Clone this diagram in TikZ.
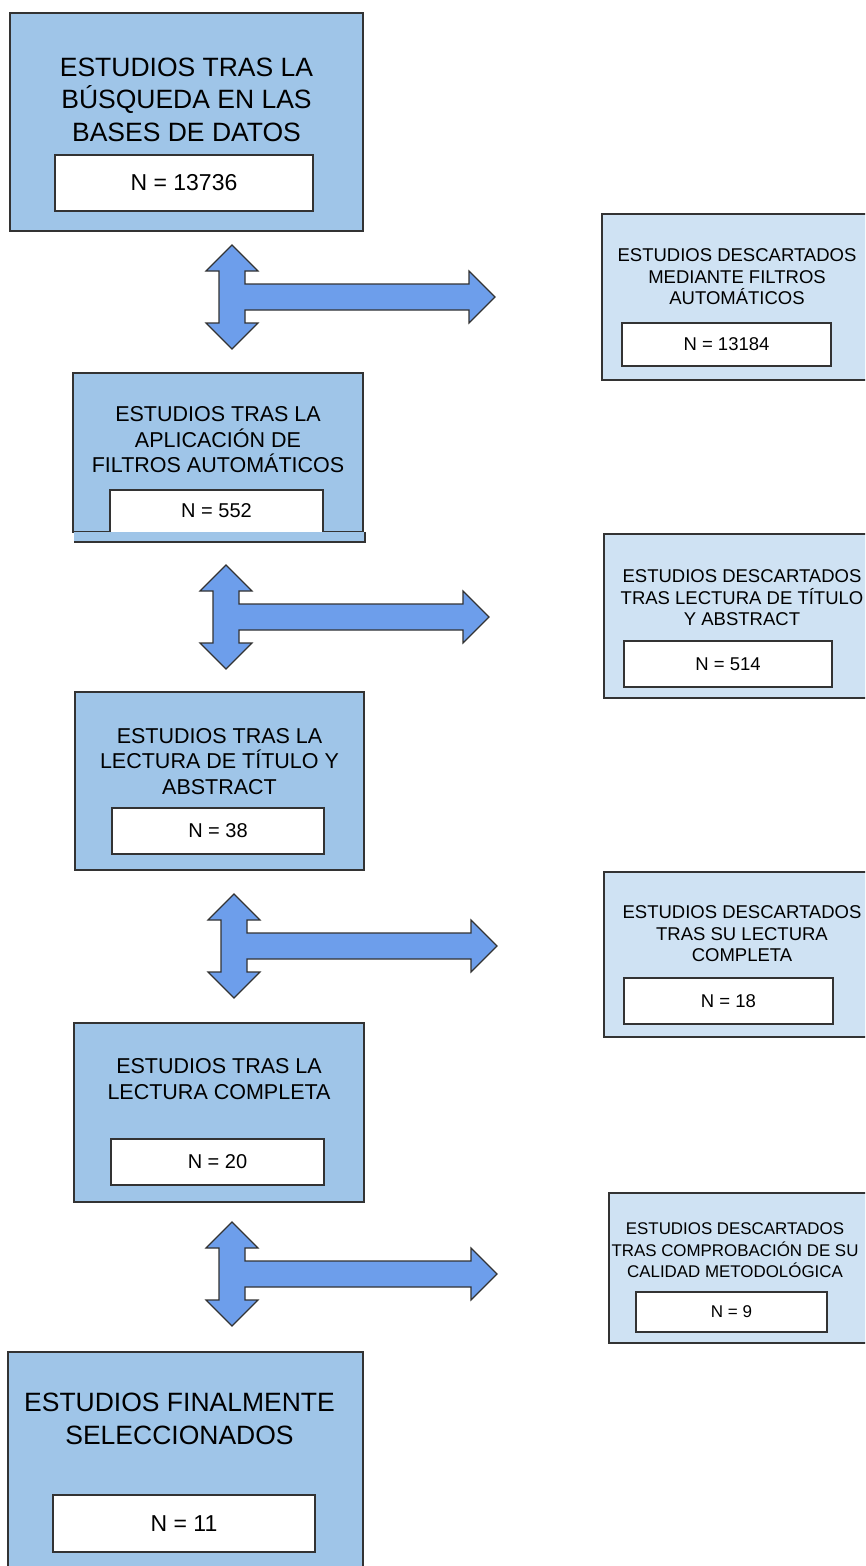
\documentclass[tikz,border=0pt]{standalone}
\usepackage{fontspec}
\setmainfont{Liberation Sans}
\definecolor{mainblue}{HTML}{9FC5E8}
\definecolor{sideblue}{HTML}{CFE2F3}
\definecolor{arrowblue}{HTML}{6D9EEB}
\definecolor{edge}{HTML}{333333}

\begin{document}
\begin{tikzpicture}[
  x=1pt, y=-1pt,
  box/.style={draw=edge, line width=1.1pt, anchor=north west, inner sep=0pt, outer sep=0pt},
  mainbox/.style={box, fill=mainblue},
  sidebox/.style={box, fill=sideblue},
  countbox/.style={box, fill=white},
  edgeline/.style={draw=edge, line width=1.1pt},
  title/.style={align=center, inner sep=0pt},
  bigtitle/.style={title, font=\fontsize{26.5}{32.5}\selectfont},
  midtitle/.style={title, font=\fontsize{21.5}{25.5}\selectfont},
  sidetitle/.style={title, font=\fontsize{18.5}{21.5}\selectfont},
  bignum/.style={font=\fontsize{23}{27}\selectfont},
  midnum/.style={font=\fontsize{20}{24}\selectfont},
  sidenum/.style={font=\fontsize{18.5}{22}\selectfont},
  blockarrow/.style={draw=edge, line width=1.1pt, fill=arrowblue, line join=miter},
]
\useasboundingbox (0,0) rectangle (865,1566);
\fill[white] (0,0) rectangle (865,1566);
\clip (0,0) rectangle (865,1566);

% left column
\node[mainbox, minimum width=353, minimum height=218] (b1) at (10,13) {};
\node[bigtitle] (b1t) at (186.5,99.5) {ESTUDIOS TRAS LA\\BÚSQUEDA EN LAS\\BASES DE DATOS};
\node[countbox, bignum, minimum width=258, minimum height=56] (b1n) at (55,155) {N = 13736};

\node[mainbox, minimum width=290, minimum height=159] (b2) at (73,373) {};
\node[midtitle] (b2t) at (218,440) {ESTUDIOS TRAS LA\\APLICACIÓN DE\\FILTROS AUTOMÁTICOS};
\node[countbox, midnum, draw=none, minimum width=213, minimum height=42] (b2n) at (110,490) {N = 552};
\draw[edgeline] (b2n.south west) |- (b2n.north east) -- (b2n.south east);
\node[box, draw=none, fill=mainblue, minimum width=291, minimum height=10.5] (b2s) at (74,531.5) {};
\draw[edgeline] (b2s.south west) -- (b2s.south east) -- (b2s.north east);

\node[mainbox, minimum width=289, minimum height=178] (b3) at (75,692) {};
\node[midtitle] (b3t) at (219.5,761.5) {ESTUDIOS TRAS LA\\LECTURA DE TÍTULO Y\\ABSTRACT};
\node[countbox, midnum, minimum width=212, minimum height=46] (b3n) at (112,808) {N = 38};

\node[mainbox, minimum width=290, minimum height=179] (b4) at (74,1023) {};
\node[midtitle] (b4t) at (219,1079) {ESTUDIOS TRAS LA\\LECTURA COMPLETA};
\node[countbox, midnum, minimum width=213, minimum height=46] (b4n) at (111,1139) {N = 20};

\node[mainbox, minimum width=355, minimum height=230] (b5) at (8,1352) {};
\node[bigtitle] (b5t) at (179.5,1419) {ESTUDIOS FINALMENTE\\SELECCIONADOS};
\node[countbox, bignum, minimum width=262, minimum height=57] (b5n) at (53,1495) {N = 11};

% right column
\node[sidebox, minimum width=278, minimum height=166] (r1) at (602,214) {};
\node[sidetitle] (r1t) at (737,277) {ESTUDIOS DESCARTADOS\\MEDIANTE FILTROS\\AUTOMÁTICOS};
\node[countbox, sidenum, minimum width=209, minimum height=43] (r1n) at (622,323) {N = 13184};

\node[sidebox, minimum width=276, minimum height=164] (r2) at (604,534) {};
\node[sidetitle] (r2t) at (742,598) {ESTUDIOS DESCARTADOS\\TRAS LECTURA DE TÍTULO\\Y ABSTRACT};
\node[countbox, sidenum, minimum width=208, minimum height=46] (r2n) at (624,641) {N = 514};

\node[sidebox, minimum width=276, minimum height=165] (r3) at (604,872) {};
\node[sidetitle] (r3t) at (742,934) {ESTUDIOS DESCARTADOS\\TRAS SU LECTURA\\COMPLETA};
\node[countbox, sidenum, minimum width=209, minimum height=46] (r3n) at (624,978) {N = 18};

\node[sidebox, minimum width=271, minimum height=150] (r4) at (609,1193) {};
\node[title, font=\fontsize{16.9}{21.5}\selectfont] (r4t) at (735,1250.5) {ESTUDIOS DESCARTADOS\\TRAS COMPROBACIÓN DE SU\\CALIDAD METODOLÓGICA};
\node[countbox, font=\fontsize{17}{20}\selectfont, minimum width=191, minimum height=40] (r4n) at (636,1292) {N = 9};

% double arrows with side branch
\foreach \cx/\cy/\tx in {232/297/495, 226/617/489, 234/946/497, 232/1274/497}
  \draw[blockarrow] (\cx,\cy-52) -- (\cx+26,\cy-26) -- (\cx+13,\cy-26) -- (\cx+13,\cy-13)
    -- (\tx-26,\cy-13) -- (\tx-26,\cy-26) -- (\tx,\cy) -- (\tx-26,\cy+26) -- (\tx-26,\cy+13)
    -- (\cx+13,\cy+13) -- (\cx+13,\cy+26) -- (\cx+26,\cy+26) -- (\cx,\cy+52)
    -- (\cx-26,\cy+26) -- (\cx-13,\cy+26) -- (\cx-13,\cy-26) -- (\cx-26,\cy-26) -- cycle;
\end{tikzpicture}
\end{document}
